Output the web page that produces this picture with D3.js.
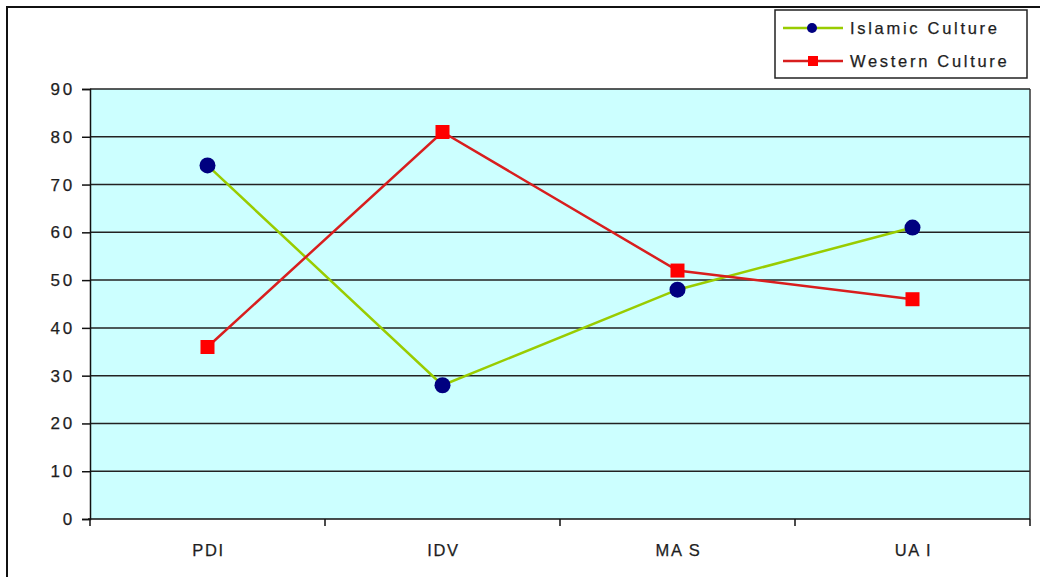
<!DOCTYPE html>
<html>
<head>
<meta charset="utf-8">
<script src="https://cdn.jsdelivr.net/npm/d3@7"></script>
<style>
  html, body { margin: 0; padding: 0; background: #fff; }
  svg { display: block; font-family: "Liberation Sans", Arial, sans-serif; }
</style>
</head>
<body>
<svg id="chart" width="1040" height="577"></svg>
<script>
// Hofstede cultural dimensions: Islamic vs Western culture
const categories = ["PDI", "IDV", "MAS", "UAI"];
const categoryLabels = ["PDI", "IDV", "MA S", "UA I"];
const islamicValues = [74, 28, 48, 61];
const westernValues = [36, 81, 52, 46];
const yTicks = [0, 10, 20, 30, 40, 50, 60, 70, 80, 90];

const svg = d3.select("#chart");
const W = 1040, H = 577;
const plot = { left: 90, right: 1030, top: 89, bottom: 519 };
const FONT = "'Liberation Sans', Arial, sans-serif";
const TEXT = "#1e1e1e";

// Outer frame
svg.append("rect")
  .attr("x", 7).attr("y", 7)
  .attr("width", W + 10).attr("height", H + 10)
  .attr("fill", "#fff").attr("stroke", "#111").attr("stroke-width", 2);

const x = d3.scaleBand().domain(categories).range([plot.left, plot.right]);
const y = d3.scaleLinear().domain([0, 90]).range([plot.bottom, plot.top]);

// Plot area background
svg.append("rect")
  .attr("x", plot.left).attr("y", plot.top)
  .attr("width", plot.right - plot.left).attr("height", plot.bottom - plot.top)
  .attr("fill", "#ccffff");

// Horizontal gridlines
svg.append("g").selectAll("line")
  .data(yTicks.filter(d => d > 0))
  .join("line")
  .attr("x1", plot.left).attr("x2", plot.right)
  .attr("y1", d => y(d)).attr("y2", d => y(d))
  .attr("stroke", "#222").attr("stroke-width", 1.5);

// Right border of plot area
svg.append("line")
  .attr("x1", plot.right).attr("x2", plot.right)
  .attr("y1", plot.top).attr("y2", plot.bottom)
  .attr("stroke", "#333").attr("stroke-width", 1.5);

// Y axis
const yAxis = svg.append("g")
  .attr("transform", `translate(${plot.left},0)`)
  .call(d3.axisLeft(y).tickValues(yTicks).tickSize(8).tickPadding(7));
yAxis.select(".domain").attr("stroke", "#111").attr("stroke-width", 1.5);
yAxis.selectAll(".tick line").attr("stroke", "#111").attr("stroke-width", 1.5);
yAxis.selectAll(".tick text")
  .attr("fill", TEXT)
  .attr("stroke", TEXT).attr("stroke-width", 0.25)
  .style("font-size", "17px")
  .style("letter-spacing", "2.8px")
  .style("font-family", FONT);

// X axis with ticks at band boundaries
const xAxisG = svg.append("g").attr("transform", `translate(0,${plot.bottom})`);
xAxisG.append("line")
  .attr("x1", plot.left - 2).attr("x2", plot.right)
  .attr("stroke", "#111").attr("stroke-width", 1.5);
const boundaries = categories.map(c => x(c)).concat([x(categories[categories.length - 1]) + x.bandwidth()]);
xAxisG.selectAll("line.tick")
  .data(boundaries)
  .join("line")
  .attr("class", "tick")
  .attr("x1", d => d).attr("x2", d => d)
  .attr("y1", 0).attr("y2", 7)
  .attr("stroke", "#111").attr("stroke-width", 1.5);
xAxisG.selectAll("text")
  .data(categories)
  .join("text")
  .attr("x", d => x(d) + x.bandwidth() / 2 + 1)
  .attr("y", 37)
  .attr("text-anchor", "middle")
  .attr("fill", TEXT)
  .attr("stroke", TEXT).attr("stroke-width", 0.25)
  .style("font-size", "16.5px")
  .style("letter-spacing", "1.6px")
  .text((d, i) => categoryLabels[i]);

const cx = d => x(d) + x.bandwidth() / 2;
const line = d3.line().x(d => cx(d.c)).y(d => y(d.v));

const series = [
  { name: "Islamic Culture", values: islamicValues, line: "#99cc00", marker: "#000080", shape: "circle" },
  { name: "Western Culture", values: westernValues, line: "#d81e1e", marker: "#ff0000", shape: "square" }
];

series.forEach(s => {
  const pts = categories.map((c, i) => ({ c, v: s.values[i] }));
  svg.append("path")
    .datum(pts)
    .attr("d", line)
    .attr("fill", "none")
    .attr("stroke", s.line)
    .attr("stroke-width", 2.5);
  const g = svg.append("g");
  if (s.shape === "circle") {
    g.selectAll("circle").data(pts).join("circle")
      .attr("cx", d => cx(d.c)).attr("cy", d => y(d.v))
      .attr("r", 8).attr("fill", s.marker);
  } else {
    g.selectAll("rect").data(pts).join("rect")
      .attr("x", d => cx(d.c) - 7).attr("y", d => y(d.v) - 7)
      .attr("width", 14).attr("height", 14).attr("fill", s.marker);
  }
});

// Legend
const legend = svg.append("g");
legend.append("rect")
  .attr("x", 775).attr("y", 10).attr("width", 252).attr("height", 68)
  .attr("fill", "#fff").attr("stroke", "#222").attr("stroke-width", 1.5);
series.forEach((s, i) => {
  const ly = 28 + i * 33;
  legend.append("line")
    .attr("x1", 783).attr("x2", 843).attr("y1", ly).attr("y2", ly)
    .attr("stroke", s.line).attr("stroke-width", 2.5);
  if (s.shape === "circle") {
    legend.append("circle").attr("cx", 812).attr("cy", ly).attr("r", 5).attr("fill", s.marker);
  } else {
    legend.append("rect").attr("x", 808).attr("y", ly - 5).attr("width", 10).attr("height", 10).attr("fill", s.marker);
  }
  legend.append("text")
    .attr("x", 850).attr("y", ly + 6)
    .attr("fill", TEXT)
    .attr("stroke", TEXT).attr("stroke-width", 0.25)
    .style("font-size", "16.5px")
    .style("letter-spacing", "2.7px")
    .text(s.name);
});
</script>
</body>
</html>
